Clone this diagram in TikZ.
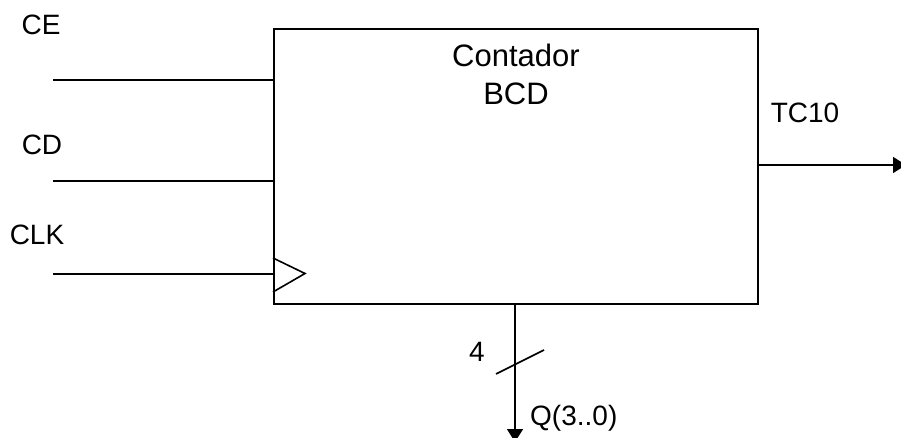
\documentclass[tikz,border=0pt]{standalone}
\usepackage{fontspec}
\setmainfont{Liberation Sans}
\usetikzlibrary{arrows.meta}
\begin{document}
\begin{tikzpicture}[x=1pt,y=-1pt,
  wire/.style={line width=1.6pt},
  lbl/.style={inner sep=0pt,font=\fontsize{28}{34}\selectfont},
  ttl/.style={inner sep=0pt,align=center,font=\fontsize{31}{38}\selectfont},
  arr/.style={-{Triangle[length=13pt,width=16pt]}}]
\useasboundingbox (0,0) rectangle (901,438);
\begin{scope}
\clip (0,0) rectangle (901,438);
\node[draw,line width=1.6pt,minimum width=484pt,minimum height=274.5pt,inner sep=0pt,anchor=north west] (box) at (273,28.5) {};
\node[ttl] (title) at (516,74) {Contador\\BCD};
\coordinate (ce) at (53,80);
\coordinate (cd) at (53,181);
\coordinate (clk) at (53,274);
\draw[wire] (ce) -- (ce -| box.west);
\draw[wire] (cd) -- (cd -| box.west);
\draw[wire] (clk) -- (clk -| box.west);
\draw[wire,line join=miter] (273,258) -- (305,273.5) -- (273,292);
\node[lbl] (tce) at (41,25) {CE};
\node[lbl] (tcd) at (42,145) {CD};
\node[lbl] (tclk) at (37,235) {CLK};
\coordinate (tcout) at (906,165);
\draw[wire,arr] (box.east |- tcout) -- (tcout);
\node[lbl] (ttc) at (805,113) {TC10};
\coordinate (qout) at (515,442);
\draw[wire,arr] (box.south -| qout) -- (qout);
\coordinate (s1) at (496,374);
\coordinate (s2) at (544,350);
\draw[wire] (s1) -- (s2);
\node[lbl] (tn) at (477,352) {4};
\node[lbl,anchor=west] (tq) at (530,418) {Q(3..0)};
\end{scope}
\end{tikzpicture}
\end{document}
